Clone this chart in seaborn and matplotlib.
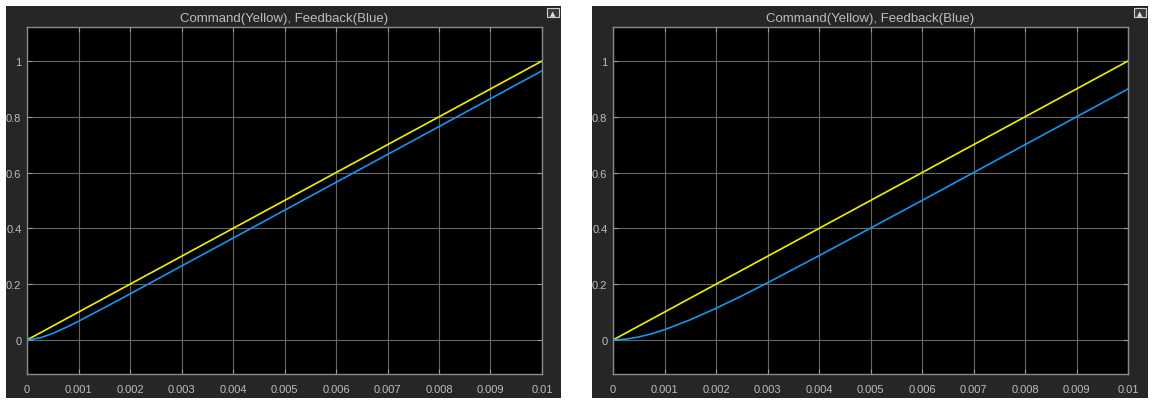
import numpy as np
import pandas as pd
import matplotlib
matplotlib.use("Agg")
import matplotlib.pyplot as plt
from matplotlib.patches import Rectangle
import seaborn as sns

# ---- data ----
time = [0.0, 0.00025, 0.0005, 0.00075, 0.001, 0.0015, 0.002, 0.0025, 0.003,
        0.004, 0.005, 0.006, 0.007, 0.008, 0.009, 0.01]
command = [0.0, 0.025, 0.05, 0.075, 0.1, 0.15, 0.2, 0.25, 0.3,
           0.4, 0.5, 0.6, 0.7, 0.8, 0.9, 1.0]
feedback_left = [0.0, 0.0072, 0.0234, 0.0441, 0.0671, 0.1155, 0.165, 0.215, 0.265,
                 0.365, 0.465, 0.565, 0.665, 0.765, 0.865, 0.965]
feedback_right = [0.0, 0.0029, 0.0107, 0.0222, 0.0368, 0.0723, 0.1135, 0.158, 0.205,
                  0.302, 0.401, 0.500, 0.600, 0.700, 0.800, 0.900]
x_ticks = [0, 0.001, 0.002, 0.003, 0.004, 0.005, 0.006, 0.007, 0.008, 0.009, 0.01]
x_tick_labels = ["0", "0.001", "0.002", "0.003", "0.004", "0.005", "0.006",
                 "0.007", "0.008", "0.009", "0.01"]
y_ticks = [0, 0.2, 0.4, 0.6, 0.8, 1]
y_tick_labels = ["0", "0.2", "0.4", "0.6", "0.8", "1"]
title = "Command(Yellow), Feedback(Blue)"

sns.set_theme(style="dark")
plt.rcParams["font.family"] = ["Liberation Sans", "DejaVu Sans"]

W, H = 1152, 406
fig = plt.figure(figsize=(W / 100, H / 100), dpi=100, facecolor="white")

PANEL = "#262626"
GRID = "#666666"
SPINE = "#8a8a8a"
TEXT = "#bdbdbd"
YELLOW = "#f0f000"
BLUE = "#1496f0"

panels = [(6, 7, 555, 392), (592, 7, 556, 392)]
axes_px = [(27, 28, 515, 347), (613, 28, 515, 347)]
feedbacks = [feedback_left, feedback_right]

for (px, py, pw, ph), (ax_x, ax_y, ax_w, ax_h), fb in zip(panels, axes_px, feedbacks):
    fig.patches.append(Rectangle((px / W, 1 - (py + ph) / H), pw / W, ph / H,
                                 transform=fig.transFigure, facecolor=PANEL,
                                 edgecolor="none", zorder=-10))
    # small "undock" icon at top right of panel
    ix, iy = px + pw - 14, py + 2
    fig.patches.append(Rectangle((ix / W, 1 - (iy + 9) / H), 12 / W, 9 / H,
                                 transform=fig.transFigure, facecolor="#3a3a3a",
                                 edgecolor="#d0d0d0", lw=0.8, zorder=-5))
    fig.text((ix + 6) / W, 1 - (iy + 5) / H, "▲", color="#e0e0e0", fontsize=5,
             ha="center", va="center", family=["DejaVu Sans"], zorder=-4)

    ax = fig.add_axes([ax_x / W, 1 - (ax_y + ax_h) / H, ax_w / W, ax_h / H])
    ax.set_facecolor("black")
    df = pd.DataFrame({"t": time, "cmd": command, "fb": fb})
    sns.lineplot(data=df, x="t", y="cmd", ax=ax, color=YELLOW, lw=1.2, zorder=3)
    sns.lineplot(data=df, x="t", y="fb", ax=ax, color=BLUE, lw=1.2, zorder=3)
    ax.set_xlim(0, 0.01)
    ax.set_ylim(-0.122, 1.122)
    ax.set_xticks(x_ticks)
    ax.set_xticklabels(x_tick_labels)
    ax.set_yticks(y_ticks)
    ax.set_yticklabels(y_tick_labels)
    ax.set_xlabel("")
    ax.set_ylabel("")
    ax.grid(True, color=GRID, lw=0.8)
    ax.set_axisbelow(True)
    for s in ax.spines.values():
        s.set_visible(True)
        s.set_color(SPINE)
        s.set_linewidth(1.0)
    ax.tick_params(axis="both", which="both", direction="in", length=3.5,
                   width=0.8, color="#9a9a9a", labelcolor=TEXT, labelsize=8,
                   top=True, right=True, bottom=True, left=True)
    ax.tick_params(axis="x", pad=7)
    ax.tick_params(axis="y", pad=4)
    ax.set_title(title, color=TEXT, fontsize=9.5, pad=4.5)

fig.savefig("out.png", dpi=100, facecolor="white")
